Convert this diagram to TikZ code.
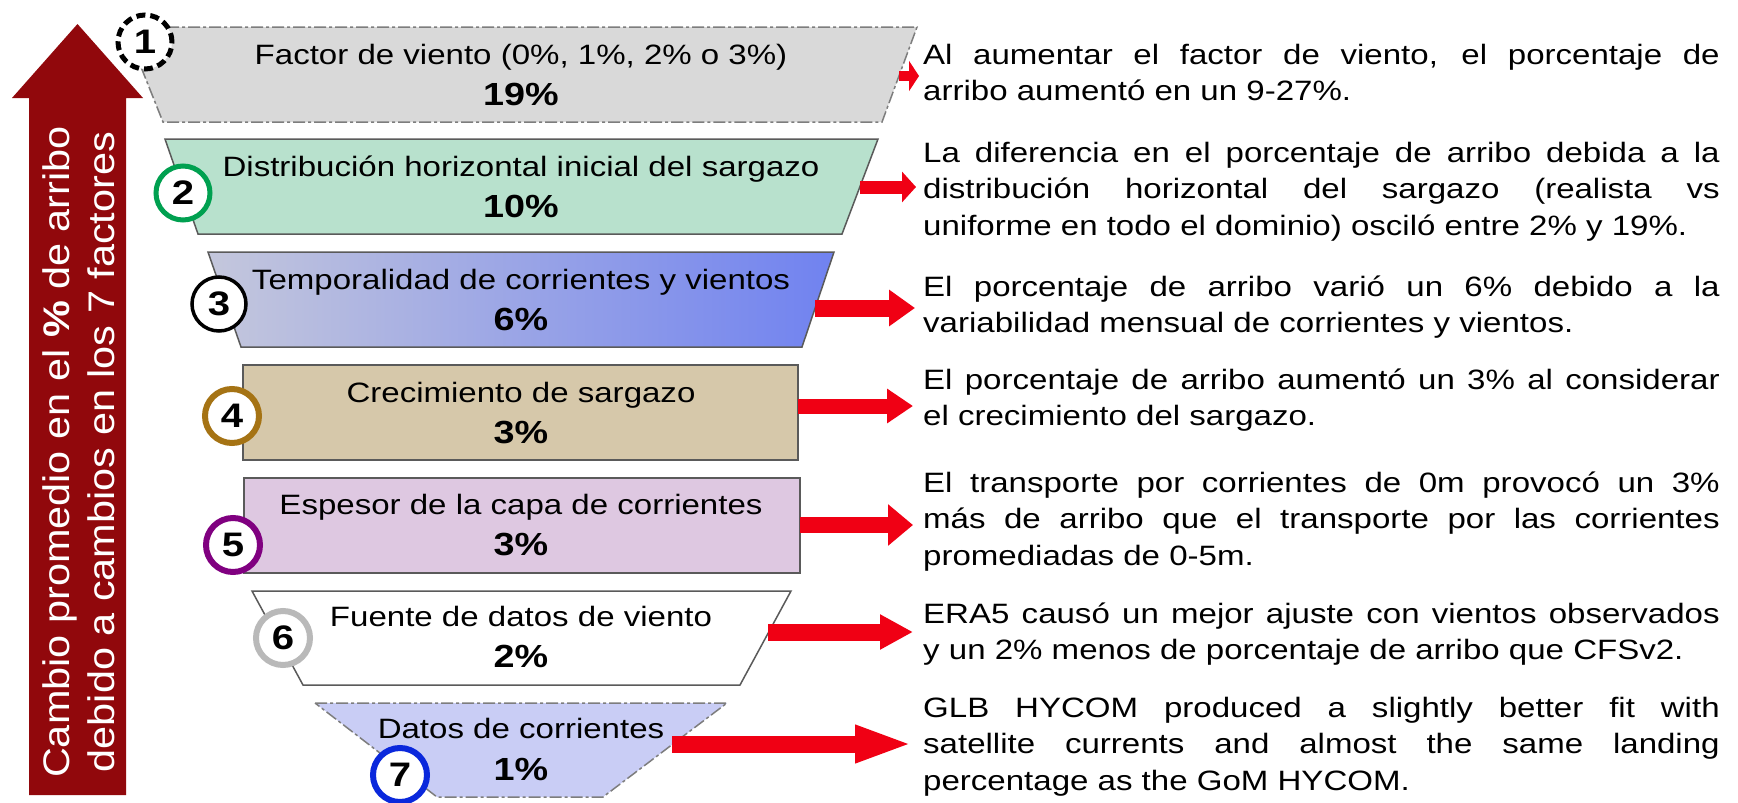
\documentclass[tikz,border=0pt]{standalone}
\usepackage{fontspec}
\setmainfont{Liberation Sans}
\usetikzlibrary{arrows.meta}
\definecolor{bigred}{RGB}{145,8,12}
\definecolor{arrred}{RGB}{240,0,20}
\definecolor{bandone}{RGB}{217,217,217}
\definecolor{bandtwo}{RGB}{184,225,205}
\definecolor{bandthreeL}{RGB}{196,199,220}
\definecolor{bandthreeR}{RGB}{112,130,240}
\definecolor{bandfour}{RGB}{214,200,170}
\definecolor{bandfive}{RGB}{222,200,225}
\definecolor{bandseven}{RGB}{201,205,245}
\definecolor{edgegray}{RGB}{90,90,90}
\definecolor{dashgray}{RGB}{125,125,125}
\definecolor{cgreen}{RGB}{0,160,80}
\definecolor{cbrown}{RGB}{165,115,20}
\definecolor{cpurple}{RGB}{128,0,128}
\definecolor{cgray}{RGB}{185,185,185}
\definecolor{cblue}{RGB}{10,40,220}
\newcommand\sx[1]{\scalebox{1.18}[1]{#1}}
\newcommand\parsetup{\tolerance=10000\relax\hbadness=10000\relax\hyphenpenalty=10000\relax\fontsize{28}{36.7}\selectfont}
\newcommand\expl[1]{\scalebox{1.18}[1]{\parbox[t]{675pt}{\parsetup #1}}}
\begin{document}
\begin{tikzpicture}[x=1pt,y=-1pt,
  bandedge/.style={draw=edgegray,line width=1.5pt},
  banddash/.style={draw=dashgray,line width=1.5pt,dash pattern=on 12pt off 3pt on 3pt off 3pt},
  bandtxt/.style={anchor=base,inner sep=0pt,font=\fontsize{28}{32}\selectfont},
  bandpct/.style={anchor=base,inner sep=0pt,font=\fontsize{32}{36}\selectfont\bfseries},
  numc/.style={circle,fill=white,minimum size=54pt,inner sep=0pt,line width=6pt,font=\fontsize{34}{34}\selectfont\bfseries},
  para/.style={anchor=base west,inner sep=0pt},
  redarr/.style n args={3}{draw=arrred,line width=#1,-{Triangle[length=#2,width=#3]}}
]
\useasboundingbox (0,0) rectangle (1738,803);
\fill[white] (0,0) rectangle (1738,803);

% big vertical arrow
\fill[bigred] (29,795) -- (29,98) -- (12,98) -- (77.5,24) -- (143,98) -- (126,98) -- (126,795) -- cycle;
\node[rotate=90,text=white,align=center,inner sep=0pt,font=\fontsize{37}{45}\selectfont] (ytitle) at (79,452)
  {\scalebox{1.12}[1]{Cambio promedio en el \textbf{\%} de arribo}\\\scalebox{1.12}[1]{debido a cambios en los 7 factores}};

% bands
\path[fill=bandone,banddash] (125,27) -- (917,27) -- (882,122) -- (163,122) -- cycle;
\path[fill=bandtwo,bandedge] (165,139) -- (878,139) -- (842,234) -- (198,234) -- cycle;
\shadedraw[left color=bandthreeL,right color=bandthreeR,draw=edgegray,line width=1.5pt] (208,252) -- (834,252) -- (802,347) -- (241,347) -- cycle;
\path[fill=bandfour,bandedge] (243,365) rectangle (798,460);
\path[fill=bandfive,bandedge] (244,478) rectangle (800,573);
\path[fill=white,bandedge] (252,591) -- (791,591) -- (740,685) -- (303,685) -- cycle;
\path[fill=bandseven,banddash] (315,703) -- (727,703) -- (603,797) -- (437,797) -- cycle;

% band texts
\node[bandtxt] (t1) at (521,64) {\sx{Factor de viento (0\%, 1\%, 2\% o 3\%)}};
\node[bandpct] (p1) at (521,105) {\sx{19\%}};
\node[bandtxt] (t2) at (521,176) {\sx{Distribución horizontal inicial del sargazo}};
\node[bandpct] (p2) at (521,217) {\sx{10\%}};
\node[bandtxt] (t3) at (521,289) {\sx{Temporalidad de corrientes y vientos}};
\node[bandpct] (p3) at (521,330) {\sx{6\%}};
\node[bandtxt] (t4) at (521,402) {\sx{Crecimiento de sargazo}};
\node[bandpct] (p4) at (521,443) {\sx{3\%}};
\node[bandtxt] (t5) at (521,514) {\sx{Espesor de la capa de corrientes}};
\node[bandpct] (p5) at (521,555) {\sx{3\%}};
\node[bandtxt] (t6) at (521,626) {\sx{Fuente de datos de viento}};
\node[bandpct] (p6) at (521,667) {\sx{2\%}};
\node[bandtxt] (t7) at (521,738) {\sx{Datos de corrientes}};
\node[bandpct] (p7) at (521,780) {\sx{1\%}};

% number circles
\node[numc,draw=black,line width=5pt,dash pattern=on 9pt off 5pt] (c1) at (145,42) {\sx{1}};
\node[numc,draw=cgreen,line width=5pt] (c2) at (183,193) {\sx{2}};
\node[numc,draw=black,line width=3.5pt] (c3) at (219,304) {\sx{3}};
\node[numc,draw=cbrown] (c4) at (232,416) {\sx{4}};
\node[numc,draw=cpurple] (c5) at (233,545) {\sx{5}};
\node[numc,draw=cgray] (c6) at (283,638) {\sx{6}};
\node[numc,draw=cblue] (c7) at (400,775) {\sx{7}};

% arrow end points
\coordinate (a1s) at (899,76);  \coordinate (a1e) at (919,76);
\coordinate (a2s) at (860,187); \coordinate (a2e) at (916,187);
\coordinate (a3s) at (815,308); \coordinate (a3e) at (915,308);
\coordinate (a4s) at (798,406); \coordinate (a4e) at (913,406);
\coordinate (a5s) at (800,525); \coordinate (a5e) at (913,525);
\coordinate (a6s) at (768,632); \coordinate (a6e) at (913,632);
\coordinate (a7s) at (672,744); \coordinate (a7e) at (913,744);
\draw[redarr={10pt}{10pt}{30pt}] (a1s) -- (a1e);
\draw[redarr={13pt}{14pt}{30pt}] (a2s) -- (a2e);
\draw[redarr={17pt}{26pt}{35pt}] (a3s) -- (a3e);
\draw[redarr={15pt}{26pt}{33pt}] (a4s) -- (a4e);
\draw[redarr={16pt}{25pt}{40pt}] (a5s) -- (a5e);
\draw[redarr={17pt}{33pt}{33pt}] (a6s) -- (a6e);
\draw[redarr={17pt}{58pt}{34pt}] (a7s) -- (a7e);

% explanations
\node[para] (e1) at (923,64) {\expl{Al aumentar el factor de viento, el porcentaje de\linebreak arribo aumentó en un 9-27\%.}};
\node[para] (e2) at (923,162) {\expl{La diferencia en el porcentaje de arribo debida a la\linebreak distribución horizontal del sargazo (realista vs\linebreak uniforme en todo el dominio) osciló entre 2\% y 19\%.}};
\node[para] (e3) at (923,296) {\expl{El porcentaje de arribo varió un 6\% debido a la\linebreak variabilidad mensual de corrientes y vientos.}};
\node[para] (e4) at (923,389) {\expl{El porcentaje de arribo aumentó un 3\% al considerar\linebreak el crecimiento del sargazo.}};
\node[para] (e5) at (923,492) {\expl{El transporte por corrientes de 0m provocó un 3\%\linebreak más de arribo que el transporte por las corrientes\linebreak promediadas de 0-5m.}};
\node[para] (e6) at (923,623) {\expl{ERA5 causó un mejor ajuste con vientos observados\linebreak y un 2\% menos de porcentaje de arribo que CFSv2.}};
\node[para] (e7) at (923,717) {\expl{GLB HYCOM produced a slightly better fit with\linebreak satellite currents and almost the same landing\linebreak percentage as the GoM HYCOM.}};
\end{tikzpicture}
\end{document}
